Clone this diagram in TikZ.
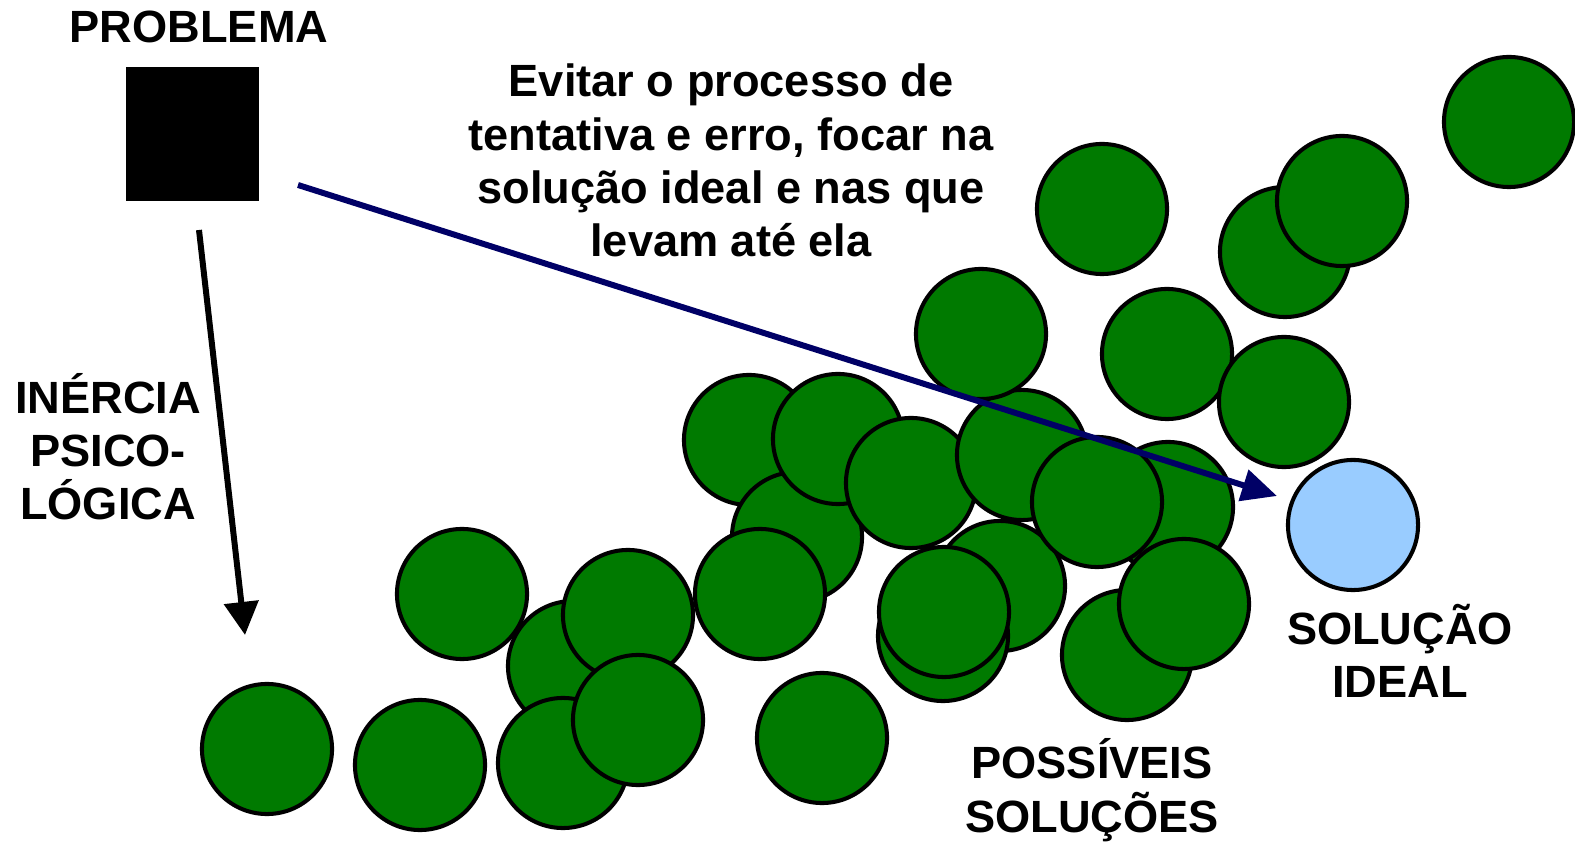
\documentclass[tikz,border=0pt]{standalone}
\usepackage{fontspec}
\setmainfont{Liberation Sans}
\usepackage{tikz}
\usetikzlibrary{arrows.meta}
\definecolor{solgreen}{RGB}{0,122,0}
\definecolor{idealblue}{RGB}{153,204,255}
\definecolor{navyarrow}{RGB}{0,0,102}
\tikzstyle{sol}=[draw=black,fill=solgreen,line width=1.15pt,circle,minimum size=1.3cm,inner sep=0pt]
\tikzstyle{label}=[align=center,inner sep=0pt,anchor=base,font={\fontsize{12.85}{15.2}\selectfont\bfseries}]

\begin{document}
\begin{tikzpicture}[x=0.01cm,y=-0.01cm]
        \useasboundingbox (0,0) rectangle (1575,846);
        % possible solutions, back to front
        \foreach \x/\y [count=\i] in {267/749,420/765,462/594,573/666,563/763,628/615,638/720,
            822/738,749/440,797/537,838/439,760/594,911/483,1022/455,981/334,1168/507,
            1000/586,1097/502,943/636,944/612,1127/655,1184/604,1167/354,1284/402,
            1102/209,1285/252,1342/201,1509/122}{
          \node[sol] (s\i) at (\x,\y) {};
        }
        \node[sol,fill=idealblue] (ideal) at (1353,525) {};
        \node[fill=black,minimum size=1.33cm,inner sep=0pt] (prob) at (192.5,134) {};
        % labels: base anchor sits on the last line
        \node[label] (tprob) at (199,43) {PROBLEMA};
        \node[label] (tavoid) at (731,257) {Evitar o processo de\\tentativa e erro, focar na\\solução ideal e nas que\\levam até ela};
        \node[label] (tinert) at (108,520) {INÉRCIA\\PSICO-\\LÓGICA};
        \node[label] (tideal) at (1400,698) {SOLUÇÃO\\IDEAL};
        \node[label] (tsols) at (1092,832) {POSSÍVEIS\\SOLUÇÕES};
        \coordinate (b1) at (298,185);
        \coordinate (b2) at (1277,496);
        \coordinate (k1) at (199,230);
        \coordinate (k2) at (245,635);
        \draw[navyarrow,line width=1.7pt,-{Triangle[length=10pt,width=9pt]}] (b1) -- (b2);
        \draw[black,line width=1.7pt,-{Triangle[length=9.4pt,width=9.6pt]}] (k1) -- (k2);
      \end{tikzpicture}
\end{document}
